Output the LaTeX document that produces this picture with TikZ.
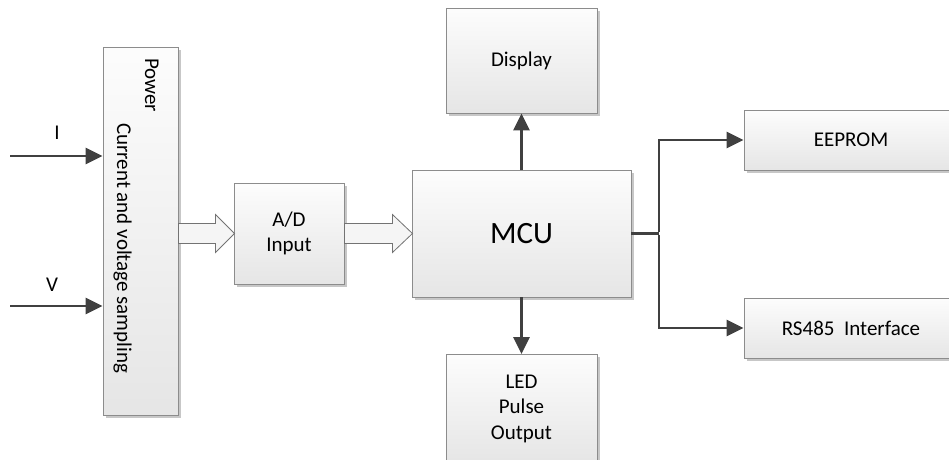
\documentclass[tikz,border=0pt]{standalone}
\usepackage{fontspec}
\setmainfont{Carlito}
\usetikzlibrary{arrows.meta,shadows,calc}
\begin{document}
\begin{tikzpicture}[x=1pt,y=-1pt,
  font=\fontsize{21}{25.5}\selectfont,
  box/.style={draw=black!45, line width=0.9pt, top color=white!99!black, bottom color=white!90!black,
    drop shadow={shadow xshift=2.5pt, shadow yshift=-2.5pt, opacity=0.22, fill=black},
    inner sep=0pt, align=center},
  arr/.style={draw=black!75, line width=2.9pt, -{Triangle[length=17pt,width=16pt]}},
  conn/.style={draw=black!75, line width=2.9pt},
  hollow/.style={draw=black!55, line width=0.8pt, fill=white!96!black, line join=miter}
]
\useasboundingbox (0,0) rectangle (949,459);
\clip (0,0) rectangle (949,459);

% boxes
\node[box, minimum width=75, minimum height=368] (pw) at (140.5,231) {};
\node[rotate=-90, anchor=base west, inner sep=0pt] (pwt) at (145,58) {Power};
\node[rotate=-90, anchor=base west, inner sep=0pt] (cvs) at (117,123) {Current and voltage sampling};

\node[box, minimum width=110, minimum height=101] (ad) at (289,233.5) {A/D\\Input};
\node[box, minimum width=219, minimum height=127, font=\fontsize{31}{36}\selectfont] (mcu) at (521.5,233.5) {MCU};
\node[box, minimum width=151, minimum height=105] (disp) at (521.5,60.5) {Display};
\node[box, minimum width=151, minimum height=108, anchor=north] (led) at (521.5,354) {LED\\Pulse\\Output};
\node[box, minimum width=214, minimum height=60] (ee) at (851,140) {EEPROM};
\node[box, minimum width=214, minimum height=60] (rs) at (851,328) {RS485~~Interface};

% inputs
\coordinate (iin) at (10,156);
\coordinate (vin) at (10,306);
\draw[arr] (iin) -- (iin -| pw.west);
\draw[arr] (vin) -- (vin -| pw.west);
\node (il) at (57,133) {I};
\node (vl) at (52,285) {V};

% hollow arrows
\draw[hollow] (pw.east |- ad.west) ++(0,-10) -- ++(37,0) -- ++(0,-9) -- ++(19,19) -- ++(-19,19) -- ++(0,-9) -- ++(-37,0) -- cycle;
\draw[hollow] (ad.east) ++(0,-10) -- ++(48,0) -- ++(0,-9) -- ++(20,19) -- ++(-20,19) -- ++(0,-9) -- ++(-48,0) -- cycle;

% MCU connections
\draw[arr] (mcu.north) -- (disp.south);
\draw[arr] (mcu.south) -- (led.north);
\coordinate (br) at (659,233.5);
\draw[conn] (mcu.east) -- (br);
\draw[arr] ($(br)+(0,-1.45)$) |- (ee.west);
\draw[arr] ($(br)+(0,1.45)$) |- (rs.west);
\end{tikzpicture}
\end{document}
